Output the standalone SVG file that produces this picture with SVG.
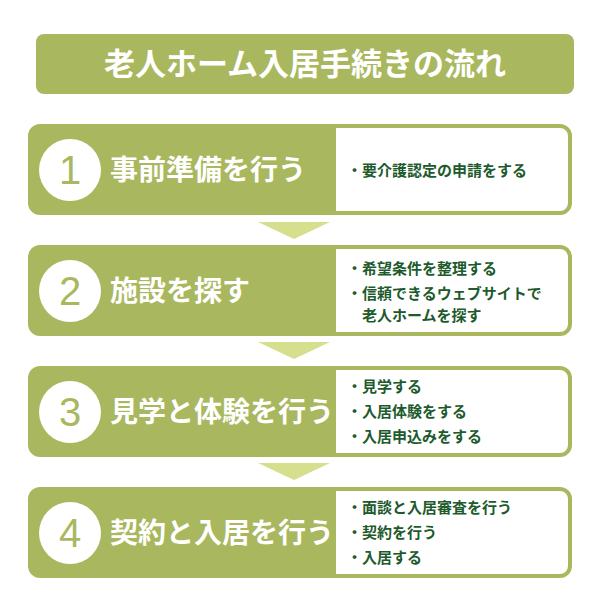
<svg xmlns="http://www.w3.org/2000/svg" width="600" height="600" viewBox="0 0 600 600">
<style>
.ol{fill:#a9b85e}
.frame{fill:#fff;stroke:#a9b85e;stroke-width:4}
.circ{fill:#fff}
.num{font-family:"Liberation Sans",sans-serif;font-size:40px;fill:#a9b85e;text-anchor:middle}
.h{font-family:"Noto Sans CJK JP",sans-serif;font-weight:bold;font-size:28px;fill:#fff}
.b{font-family:"Noto Sans CJK JP",sans-serif;font-weight:bold;font-size:15px;fill:#1d5a2c}
.tri{fill:#d5df8e}
</style>
<g id="title"><rect x="36" y="34" width="538" height="60" rx="8" class="ol"/>
<text x="305" y="75" text-anchor="middle" font-family="'Noto Sans CJK JP',sans-serif" font-weight="bold" font-size="31" fill="#fff">老人ホーム入居手続きの流れ</text></g>
<g id="connectors">
<polygon class="tri" points="258,222 330,222 294,239"/>
<polygon class="tri" points="258,342 330,342 294,359"/>
<polygon class="tri" points="258,463 330,463 294,480"/>
</g>
<g id="step1"><rect x="30" y="126" width="540" height="87" rx="10" class="frame"/>
<path d="M40,126 H336 V213 H40 A10,10 0 0 1 30,203 V136 A10,10 0 0 1 40,126Z" class="ol"/>
<circle cx="70" cy="170" r="31" class="circ"/><text x="70" y="184" class="num">1</text>
<text x="110" y="180" class="h">事前準備を行う</text>
<text x="347" y="176" class="b">・要介護認定の申請をする</text></g>
<g id="step2"><rect x="30" y="247" width="540" height="87" rx="10" class="frame"/>
<path d="M40,247 H336 V334 H40 A10,10 0 0 1 30,324 V257 A10,10 0 0 1 40,247Z" class="ol"/>
<circle cx="70" cy="291" r="31" class="circ"/><text x="70" y="305" class="num">2</text>
<text x="110" y="301" class="h">施設を探す</text>
<text x="347" y="274" class="b">・希望条件を整理する</text>
<text x="347" y="299" class="b">・信頼できるウェブサイトで</text>
<text x="362" y="321" class="b">老人ホームを探す</text></g>
<g id="step3"><rect x="30" y="368" width="540" height="87" rx="10" class="frame"/>
<path d="M40,368 H336 V455 H40 A10,10 0 0 1 30,445 V378 A10,10 0 0 1 40,368Z" class="ol"/>
<circle cx="70" cy="412" r="31" class="circ"/><text x="70" y="426" class="num">3</text>
<text x="110" y="422" class="h">見学と体験を行う</text>
<text x="347" y="392" class="b">・見学する</text>
<text x="347" y="417" class="b">・入居体験をする</text>
<text x="347" y="442" class="b">・入居申込みをする</text></g>
<g id="step4"><rect x="30" y="489" width="540" height="87" rx="10" class="frame"/>
<path d="M40,489 H336 V576 H40 A10,10 0 0 1 30,566 V499 A10,10 0 0 1 40,489Z" class="ol"/>
<circle cx="70" cy="533" r="31" class="circ"/><text x="70" y="547" class="num">4</text>
<text x="110" y="543" class="h">契約と入居を行う</text>
<text x="347" y="513" class="b">・面談と入居審査を行う</text>
<text x="347" y="538" class="b">・契約を行う</text>
<text x="347" y="563" class="b">・入居する</text></g>
</svg>
